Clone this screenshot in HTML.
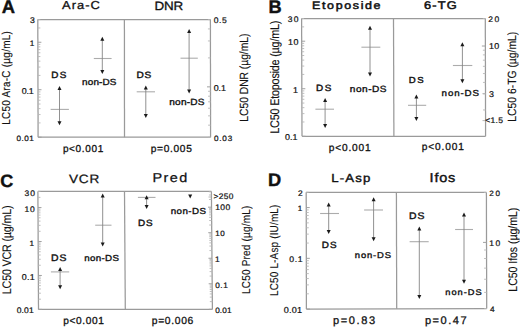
<!DOCTYPE html>
<html><head><meta charset="utf-8"><style>
html,body{margin:0;padding:0;background:#fff;width:520px;height:329px;overflow:hidden}
svg{display:block}
text{font-family:"Liberation Sans", sans-serif;fill:#111;text-rendering:geometricPrecision}
</style></head><body>
<svg width="520" height="329" viewBox="0 0 520 329">
<rect width="520" height="329" fill="#fff"/>
<line x1="37.80" y1="19.60" x2="210.40" y2="19.60" stroke="#9a9a9a" stroke-width="1.25"/>
<line x1="38.10" y1="137.20" x2="210.60" y2="137.20" stroke="#9a9a9a" stroke-width="1.25"/>
<line x1="37.80" y1="19.60" x2="38.10" y2="137.20" stroke="#9a9a9a" stroke-width="1.25"/>
<line x1="210.40" y1="19.60" x2="210.60" y2="137.20" stroke="#9a9a9a" stroke-width="1.25"/>
<line x1="124.40" y1="19.60" x2="124.50" y2="137.20" stroke="#9a9a9a" stroke-width="1.25"/>
<line x1="38.10" y1="137.20" x2="41.60" y2="137.20" stroke="#a0a0a0" stroke-width="1.0"/>
<line x1="38.06" y1="122.91" x2="40.56" y2="122.91" stroke="#b8b8b8" stroke-width="0.9"/>
<line x1="38.04" y1="114.55" x2="40.54" y2="114.55" stroke="#b8b8b8" stroke-width="0.9"/>
<line x1="38.03" y1="108.62" x2="40.53" y2="108.62" stroke="#b8b8b8" stroke-width="0.9"/>
<line x1="38.02" y1="104.02" x2="40.52" y2="104.02" stroke="#b8b8b8" stroke-width="0.9"/>
<line x1="38.01" y1="100.26" x2="40.51" y2="100.26" stroke="#b8b8b8" stroke-width="0.9"/>
<line x1="38.00" y1="97.08" x2="40.50" y2="97.08" stroke="#b8b8b8" stroke-width="0.9"/>
<line x1="37.99" y1="94.33" x2="40.49" y2="94.33" stroke="#b8b8b8" stroke-width="0.9"/>
<line x1="37.98" y1="91.90" x2="40.48" y2="91.90" stroke="#b8b8b8" stroke-width="0.9"/>
<line x1="37.98" y1="89.73" x2="41.48" y2="89.73" stroke="#a0a0a0" stroke-width="1.0"/>
<line x1="37.94" y1="75.43" x2="40.44" y2="75.43" stroke="#b8b8b8" stroke-width="0.9"/>
<line x1="37.92" y1="67.07" x2="40.42" y2="67.07" stroke="#b8b8b8" stroke-width="0.9"/>
<line x1="37.91" y1="61.14" x2="40.41" y2="61.14" stroke="#b8b8b8" stroke-width="0.9"/>
<line x1="37.89" y1="56.54" x2="40.39" y2="56.54" stroke="#b8b8b8" stroke-width="0.9"/>
<line x1="37.88" y1="52.78" x2="40.38" y2="52.78" stroke="#b8b8b8" stroke-width="0.9"/>
<line x1="37.88" y1="49.60" x2="40.38" y2="49.60" stroke="#b8b8b8" stroke-width="0.9"/>
<line x1="37.87" y1="46.85" x2="40.37" y2="46.85" stroke="#b8b8b8" stroke-width="0.9"/>
<line x1="37.86" y1="44.42" x2="40.36" y2="44.42" stroke="#b8b8b8" stroke-width="0.9"/>
<line x1="37.86" y1="42.25" x2="41.36" y2="42.25" stroke="#a0a0a0" stroke-width="1.0"/>
<line x1="37.82" y1="27.96" x2="40.32" y2="27.96" stroke="#b8b8b8" stroke-width="0.9"/>
<line x1="37.80" y1="19.60" x2="40.30" y2="19.60" stroke="#b8b8b8" stroke-width="0.9"/>
<line x1="210.60" y1="137.20" x2="208.10" y2="137.20" stroke="#b8b8b8" stroke-width="0.9"/>
<line x1="210.58" y1="125.17" x2="208.08" y2="125.17" stroke="#b8b8b8" stroke-width="0.9"/>
<line x1="210.56" y1="115.85" x2="208.06" y2="115.85" stroke="#b8b8b8" stroke-width="0.9"/>
<line x1="210.55" y1="108.23" x2="208.05" y2="108.23" stroke="#b8b8b8" stroke-width="0.9"/>
<line x1="210.54" y1="101.78" x2="208.04" y2="101.78" stroke="#b8b8b8" stroke-width="0.9"/>
<line x1="210.53" y1="96.20" x2="208.03" y2="96.20" stroke="#b8b8b8" stroke-width="0.9"/>
<line x1="210.52" y1="91.28" x2="208.02" y2="91.28" stroke="#b8b8b8" stroke-width="0.9"/>
<line x1="210.51" y1="86.87" x2="207.01" y2="86.87" stroke="#a0a0a0" stroke-width="1.0"/>
<line x1="210.47" y1="57.90" x2="207.97" y2="57.90" stroke="#b8b8b8" stroke-width="0.9"/>
<line x1="210.44" y1="40.95" x2="207.94" y2="40.95" stroke="#b8b8b8" stroke-width="0.9"/>
<line x1="210.42" y1="28.93" x2="207.92" y2="28.93" stroke="#b8b8b8" stroke-width="0.9"/>
<line x1="210.40" y1="19.60" x2="207.90" y2="19.60" stroke="#b8b8b8" stroke-width="0.9"/>
<line x1="301.60" y1="18.50" x2="485.30" y2="18.50" stroke="#9a9a9a" stroke-width="1.25"/>
<line x1="302.00" y1="136.30" x2="485.60" y2="136.30" stroke="#9a9a9a" stroke-width="1.25"/>
<line x1="301.60" y1="18.50" x2="302.00" y2="136.30" stroke="#9a9a9a" stroke-width="1.25"/>
<line x1="485.30" y1="18.50" x2="485.60" y2="136.30" stroke="#9a9a9a" stroke-width="1.25"/>
<line x1="393.50" y1="18.50" x2="393.90" y2="136.30" stroke="#9a9a9a" stroke-width="1.25"/>
<line x1="302.00" y1="136.30" x2="305.50" y2="136.30" stroke="#a0a0a0" stroke-width="1.0"/>
<line x1="301.95" y1="121.98" x2="304.45" y2="121.98" stroke="#b8b8b8" stroke-width="0.9"/>
<line x1="301.92" y1="113.61" x2="304.42" y2="113.61" stroke="#b8b8b8" stroke-width="0.9"/>
<line x1="301.90" y1="107.67" x2="304.40" y2="107.67" stroke="#b8b8b8" stroke-width="0.9"/>
<line x1="301.89" y1="103.06" x2="304.39" y2="103.06" stroke="#b8b8b8" stroke-width="0.9"/>
<line x1="301.87" y1="99.29" x2="304.37" y2="99.29" stroke="#b8b8b8" stroke-width="0.9"/>
<line x1="301.86" y1="96.11" x2="304.36" y2="96.11" stroke="#b8b8b8" stroke-width="0.9"/>
<line x1="301.85" y1="93.35" x2="304.35" y2="93.35" stroke="#b8b8b8" stroke-width="0.9"/>
<line x1="301.85" y1="90.92" x2="304.35" y2="90.92" stroke="#b8b8b8" stroke-width="0.9"/>
<line x1="301.84" y1="88.74" x2="305.34" y2="88.74" stroke="#a0a0a0" stroke-width="1.0"/>
<line x1="301.79" y1="74.43" x2="304.29" y2="74.43" stroke="#b8b8b8" stroke-width="0.9"/>
<line x1="301.76" y1="66.06" x2="304.26" y2="66.06" stroke="#b8b8b8" stroke-width="0.9"/>
<line x1="301.74" y1="60.11" x2="304.24" y2="60.11" stroke="#b8b8b8" stroke-width="0.9"/>
<line x1="301.73" y1="55.51" x2="304.23" y2="55.51" stroke="#b8b8b8" stroke-width="0.9"/>
<line x1="301.71" y1="51.74" x2="304.21" y2="51.74" stroke="#b8b8b8" stroke-width="0.9"/>
<line x1="301.70" y1="48.56" x2="304.20" y2="48.56" stroke="#b8b8b8" stroke-width="0.9"/>
<line x1="301.69" y1="45.80" x2="304.19" y2="45.80" stroke="#b8b8b8" stroke-width="0.9"/>
<line x1="301.68" y1="43.37" x2="304.18" y2="43.37" stroke="#b8b8b8" stroke-width="0.9"/>
<line x1="301.68" y1="41.19" x2="305.18" y2="41.19" stroke="#a0a0a0" stroke-width="1.0"/>
<line x1="301.63" y1="26.87" x2="304.13" y2="26.87" stroke="#b8b8b8" stroke-width="0.9"/>
<line x1="301.60" y1="18.50" x2="304.10" y2="18.50" stroke="#b8b8b8" stroke-width="0.9"/>
<line x1="485.53" y1="109.95" x2="483.03" y2="109.95" stroke="#b8b8b8" stroke-width="0.9"/>
<line x1="485.49" y1="93.84" x2="482.99" y2="93.84" stroke="#b8b8b8" stroke-width="0.9"/>
<line x1="485.46" y1="82.42" x2="482.96" y2="82.42" stroke="#b8b8b8" stroke-width="0.9"/>
<line x1="485.44" y1="73.56" x2="482.94" y2="73.56" stroke="#b8b8b8" stroke-width="0.9"/>
<line x1="485.42" y1="66.32" x2="482.92" y2="66.32" stroke="#b8b8b8" stroke-width="0.9"/>
<line x1="485.41" y1="60.19" x2="482.91" y2="60.19" stroke="#b8b8b8" stroke-width="0.9"/>
<line x1="485.39" y1="54.89" x2="482.89" y2="54.89" stroke="#b8b8b8" stroke-width="0.9"/>
<line x1="485.38" y1="50.21" x2="482.88" y2="50.21" stroke="#b8b8b8" stroke-width="0.9"/>
<line x1="485.37" y1="46.03" x2="481.87" y2="46.03" stroke="#a0a0a0" stroke-width="1.0"/>
<line x1="485.30" y1="18.50" x2="482.80" y2="18.50" stroke="#b8b8b8" stroke-width="0.9"/>
<line x1="37.90" y1="191.40" x2="211.40" y2="191.40" stroke="#9a9a9a" stroke-width="1.25"/>
<line x1="38.50" y1="309.40" x2="212.40" y2="309.30" stroke="#9a9a9a" stroke-width="1.25"/>
<line x1="37.90" y1="191.40" x2="38.50" y2="309.40" stroke="#9a9a9a" stroke-width="1.25"/>
<line x1="211.40" y1="191.40" x2="212.40" y2="309.30" stroke="#9a9a9a" stroke-width="1.25"/>
<line x1="124.50" y1="191.40" x2="125.30" y2="309.35" stroke="#9a9a9a" stroke-width="1.25"/>
<line x1="38.50" y1="309.40" x2="42.00" y2="309.40" stroke="#a0a0a0" stroke-width="1.0"/>
<line x1="38.45" y1="299.18" x2="40.95" y2="299.18" stroke="#b8b8b8" stroke-width="0.9"/>
<line x1="38.42" y1="293.21" x2="40.92" y2="293.21" stroke="#b8b8b8" stroke-width="0.9"/>
<line x1="38.40" y1="288.97" x2="40.90" y2="288.97" stroke="#b8b8b8" stroke-width="0.9"/>
<line x1="38.38" y1="285.68" x2="40.88" y2="285.68" stroke="#b8b8b8" stroke-width="0.9"/>
<line x1="38.37" y1="282.99" x2="40.87" y2="282.99" stroke="#b8b8b8" stroke-width="0.9"/>
<line x1="38.35" y1="280.72" x2="40.85" y2="280.72" stroke="#b8b8b8" stroke-width="0.9"/>
<line x1="38.34" y1="278.75" x2="40.84" y2="278.75" stroke="#b8b8b8" stroke-width="0.9"/>
<line x1="38.34" y1="277.02" x2="40.84" y2="277.02" stroke="#b8b8b8" stroke-width="0.9"/>
<line x1="38.33" y1="275.46" x2="41.83" y2="275.46" stroke="#a0a0a0" stroke-width="1.0"/>
<line x1="38.28" y1="265.25" x2="40.78" y2="265.25" stroke="#b8b8b8" stroke-width="0.9"/>
<line x1="38.25" y1="259.27" x2="40.75" y2="259.27" stroke="#b8b8b8" stroke-width="0.9"/>
<line x1="38.22" y1="255.03" x2="40.72" y2="255.03" stroke="#b8b8b8" stroke-width="0.9"/>
<line x1="38.21" y1="251.74" x2="40.71" y2="251.74" stroke="#b8b8b8" stroke-width="0.9"/>
<line x1="38.19" y1="249.06" x2="40.69" y2="249.06" stroke="#b8b8b8" stroke-width="0.9"/>
<line x1="38.18" y1="246.78" x2="40.68" y2="246.78" stroke="#b8b8b8" stroke-width="0.9"/>
<line x1="38.17" y1="244.82" x2="40.67" y2="244.82" stroke="#b8b8b8" stroke-width="0.9"/>
<line x1="38.16" y1="243.08" x2="40.66" y2="243.08" stroke="#b8b8b8" stroke-width="0.9"/>
<line x1="38.15" y1="241.53" x2="41.65" y2="241.53" stroke="#a0a0a0" stroke-width="1.0"/>
<line x1="38.10" y1="231.31" x2="40.60" y2="231.31" stroke="#b8b8b8" stroke-width="0.9"/>
<line x1="38.07" y1="225.34" x2="40.57" y2="225.34" stroke="#b8b8b8" stroke-width="0.9"/>
<line x1="38.05" y1="221.10" x2="40.55" y2="221.10" stroke="#b8b8b8" stroke-width="0.9"/>
<line x1="38.03" y1="217.81" x2="40.53" y2="217.81" stroke="#b8b8b8" stroke-width="0.9"/>
<line x1="38.02" y1="215.12" x2="40.52" y2="215.12" stroke="#b8b8b8" stroke-width="0.9"/>
<line x1="38.01" y1="212.85" x2="40.51" y2="212.85" stroke="#b8b8b8" stroke-width="0.9"/>
<line x1="38.00" y1="210.88" x2="40.50" y2="210.88" stroke="#b8b8b8" stroke-width="0.9"/>
<line x1="37.99" y1="209.14" x2="40.49" y2="209.14" stroke="#b8b8b8" stroke-width="0.9"/>
<line x1="37.98" y1="207.59" x2="41.48" y2="207.59" stroke="#a0a0a0" stroke-width="1.0"/>
<line x1="37.93" y1="197.38" x2="40.43" y2="197.38" stroke="#b8b8b8" stroke-width="0.9"/>
<line x1="37.90" y1="191.40" x2="40.40" y2="191.40" stroke="#b8b8b8" stroke-width="0.9"/>
<line x1="212.40" y1="309.30" x2="208.90" y2="309.30" stroke="#a0a0a0" stroke-width="1.0"/>
<line x1="212.33" y1="301.61" x2="209.83" y2="301.61" stroke="#b8b8b8" stroke-width="0.9"/>
<line x1="212.30" y1="297.12" x2="209.80" y2="297.12" stroke="#b8b8b8" stroke-width="0.9"/>
<line x1="212.27" y1="293.93" x2="209.77" y2="293.93" stroke="#b8b8b8" stroke-width="0.9"/>
<line x1="212.25" y1="291.46" x2="209.75" y2="291.46" stroke="#b8b8b8" stroke-width="0.9"/>
<line x1="212.23" y1="289.43" x2="209.73" y2="289.43" stroke="#b8b8b8" stroke-width="0.9"/>
<line x1="212.22" y1="287.72" x2="209.72" y2="287.72" stroke="#b8b8b8" stroke-width="0.9"/>
<line x1="212.20" y1="286.24" x2="209.70" y2="286.24" stroke="#b8b8b8" stroke-width="0.9"/>
<line x1="212.19" y1="284.94" x2="209.69" y2="284.94" stroke="#b8b8b8" stroke-width="0.9"/>
<line x1="212.18" y1="283.77" x2="208.68" y2="283.77" stroke="#a0a0a0" stroke-width="1.0"/>
<line x1="212.12" y1="276.08" x2="209.62" y2="276.08" stroke="#b8b8b8" stroke-width="0.9"/>
<line x1="212.08" y1="271.59" x2="209.58" y2="271.59" stroke="#b8b8b8" stroke-width="0.9"/>
<line x1="212.05" y1="268.40" x2="209.55" y2="268.40" stroke="#b8b8b8" stroke-width="0.9"/>
<line x1="212.03" y1="265.92" x2="209.53" y2="265.92" stroke="#b8b8b8" stroke-width="0.9"/>
<line x1="212.01" y1="263.90" x2="209.51" y2="263.90" stroke="#b8b8b8" stroke-width="0.9"/>
<line x1="212.00" y1="262.19" x2="209.50" y2="262.19" stroke="#b8b8b8" stroke-width="0.9"/>
<line x1="211.99" y1="260.71" x2="209.49" y2="260.71" stroke="#b8b8b8" stroke-width="0.9"/>
<line x1="211.98" y1="259.41" x2="209.48" y2="259.41" stroke="#b8b8b8" stroke-width="0.9"/>
<line x1="211.97" y1="258.24" x2="208.47" y2="258.24" stroke="#a0a0a0" stroke-width="1.0"/>
<line x1="211.90" y1="250.55" x2="209.40" y2="250.55" stroke="#b8b8b8" stroke-width="0.9"/>
<line x1="211.86" y1="246.06" x2="209.36" y2="246.06" stroke="#b8b8b8" stroke-width="0.9"/>
<line x1="211.84" y1="242.87" x2="209.34" y2="242.87" stroke="#b8b8b8" stroke-width="0.9"/>
<line x1="211.82" y1="240.39" x2="209.32" y2="240.39" stroke="#b8b8b8" stroke-width="0.9"/>
<line x1="211.80" y1="238.37" x2="209.30" y2="238.37" stroke="#b8b8b8" stroke-width="0.9"/>
<line x1="211.78" y1="236.66" x2="209.28" y2="236.66" stroke="#b8b8b8" stroke-width="0.9"/>
<line x1="211.77" y1="235.18" x2="209.27" y2="235.18" stroke="#b8b8b8" stroke-width="0.9"/>
<line x1="211.76" y1="233.88" x2="209.26" y2="233.88" stroke="#b8b8b8" stroke-width="0.9"/>
<line x1="211.75" y1="232.71" x2="208.25" y2="232.71" stroke="#a0a0a0" stroke-width="1.0"/>
<line x1="211.69" y1="225.02" x2="209.19" y2="225.02" stroke="#b8b8b8" stroke-width="0.9"/>
<line x1="211.65" y1="220.53" x2="209.15" y2="220.53" stroke="#b8b8b8" stroke-width="0.9"/>
<line x1="211.62" y1="217.34" x2="209.12" y2="217.34" stroke="#b8b8b8" stroke-width="0.9"/>
<line x1="211.60" y1="214.86" x2="209.10" y2="214.86" stroke="#b8b8b8" stroke-width="0.9"/>
<line x1="211.58" y1="212.84" x2="209.08" y2="212.84" stroke="#b8b8b8" stroke-width="0.9"/>
<line x1="211.57" y1="211.13" x2="209.07" y2="211.13" stroke="#b8b8b8" stroke-width="0.9"/>
<line x1="211.55" y1="209.65" x2="209.05" y2="209.65" stroke="#b8b8b8" stroke-width="0.9"/>
<line x1="211.54" y1="208.35" x2="209.04" y2="208.35" stroke="#b8b8b8" stroke-width="0.9"/>
<line x1="211.53" y1="207.18" x2="208.03" y2="207.18" stroke="#a0a0a0" stroke-width="1.0"/>
<line x1="211.47" y1="199.49" x2="208.97" y2="199.49" stroke="#b8b8b8" stroke-width="0.9"/>
<line x1="211.43" y1="195.00" x2="208.93" y2="195.00" stroke="#b8b8b8" stroke-width="0.9"/>
<line x1="211.40" y1="191.81" x2="208.90" y2="191.81" stroke="#b8b8b8" stroke-width="0.9"/>
<line x1="306.20" y1="192.30" x2="486.40" y2="192.40" stroke="#9a9a9a" stroke-width="1.25"/>
<line x1="306.40" y1="309.10" x2="486.70" y2="308.50" stroke="#9a9a9a" stroke-width="1.25"/>
<line x1="306.20" y1="192.30" x2="306.40" y2="309.10" stroke="#9a9a9a" stroke-width="1.25"/>
<line x1="486.40" y1="192.40" x2="486.70" y2="308.50" stroke="#9a9a9a" stroke-width="1.25"/>
<line x1="396.40" y1="192.35" x2="396.70" y2="308.80" stroke="#9a9a9a" stroke-width="1.25"/>
<line x1="306.40" y1="309.10" x2="309.90" y2="309.10" stroke="#a0a0a0" stroke-width="1.0"/>
<line x1="306.37" y1="293.82" x2="308.87" y2="293.82" stroke="#b8b8b8" stroke-width="0.9"/>
<line x1="306.36" y1="284.88" x2="308.86" y2="284.88" stroke="#b8b8b8" stroke-width="0.9"/>
<line x1="306.35" y1="278.54" x2="308.85" y2="278.54" stroke="#b8b8b8" stroke-width="0.9"/>
<line x1="306.34" y1="273.62" x2="308.84" y2="273.62" stroke="#b8b8b8" stroke-width="0.9"/>
<line x1="306.33" y1="269.60" x2="308.83" y2="269.60" stroke="#b8b8b8" stroke-width="0.9"/>
<line x1="306.33" y1="266.20" x2="308.83" y2="266.20" stroke="#b8b8b8" stroke-width="0.9"/>
<line x1="306.32" y1="263.26" x2="308.82" y2="263.26" stroke="#b8b8b8" stroke-width="0.9"/>
<line x1="306.32" y1="260.66" x2="308.82" y2="260.66" stroke="#b8b8b8" stroke-width="0.9"/>
<line x1="306.31" y1="258.34" x2="309.81" y2="258.34" stroke="#a0a0a0" stroke-width="1.0"/>
<line x1="306.29" y1="243.06" x2="308.79" y2="243.06" stroke="#b8b8b8" stroke-width="0.9"/>
<line x1="306.27" y1="234.12" x2="308.77" y2="234.12" stroke="#b8b8b8" stroke-width="0.9"/>
<line x1="306.26" y1="227.78" x2="308.76" y2="227.78" stroke="#b8b8b8" stroke-width="0.9"/>
<line x1="306.25" y1="222.86" x2="308.75" y2="222.86" stroke="#b8b8b8" stroke-width="0.9"/>
<line x1="306.25" y1="218.84" x2="308.75" y2="218.84" stroke="#b8b8b8" stroke-width="0.9"/>
<line x1="306.24" y1="215.44" x2="308.74" y2="215.44" stroke="#b8b8b8" stroke-width="0.9"/>
<line x1="306.23" y1="212.50" x2="308.73" y2="212.50" stroke="#b8b8b8" stroke-width="0.9"/>
<line x1="306.23" y1="209.90" x2="308.73" y2="209.90" stroke="#b8b8b8" stroke-width="0.9"/>
<line x1="306.23" y1="207.58" x2="309.73" y2="207.58" stroke="#a0a0a0" stroke-width="1.0"/>
<line x1="306.20" y1="192.30" x2="308.70" y2="192.30" stroke="#b8b8b8" stroke-width="0.9"/>
<line x1="486.70" y1="308.50" x2="484.20" y2="308.50" stroke="#b8b8b8" stroke-width="0.9"/>
<line x1="486.66" y1="292.40" x2="484.16" y2="292.40" stroke="#b8b8b8" stroke-width="0.9"/>
<line x1="486.62" y1="279.25" x2="484.12" y2="279.25" stroke="#b8b8b8" stroke-width="0.9"/>
<line x1="486.60" y1="268.13" x2="484.10" y2="268.13" stroke="#b8b8b8" stroke-width="0.9"/>
<line x1="486.57" y1="258.50" x2="484.07" y2="258.50" stroke="#b8b8b8" stroke-width="0.9"/>
<line x1="486.55" y1="250.00" x2="484.05" y2="250.00" stroke="#b8b8b8" stroke-width="0.9"/>
<line x1="486.53" y1="242.40" x2="483.03" y2="242.40" stroke="#a0a0a0" stroke-width="1.0"/>
<line x1="486.40" y1="192.40" x2="483.90" y2="192.40" stroke="#b8b8b8" stroke-width="0.9"/>
<line x1="485.40" y1="93.70" x2="482.40" y2="93.70" stroke="#b0b0b0" stroke-width="0.9"/>
<line x1="485.50" y1="120.60" x2="482.50" y2="120.60" stroke="#b0b0b0" stroke-width="0.9"/>
<line x1="211.50" y1="197.00" x2="208.50" y2="197.00" stroke="#b0b0b0" stroke-width="0.9"/>
<line x1="50.60" y1="109.40" x2="68.90" y2="109.40" stroke="#acacac" stroke-width="1.1"/>
<line x1="59.50" y1="89.10" x2="59.50" y2="122.30" stroke="#858585" stroke-width="0.9"/>
<polygon points="59.50,86.10 57.50,90.10 61.50,90.10" fill="#1a1a1a"/>
<polygon points="59.50,125.30 57.50,121.30 61.50,121.30" fill="#1a1a1a"/>
<line x1="93.80" y1="58.50" x2="111.60" y2="58.50" stroke="#acacac" stroke-width="1.1"/>
<line x1="102.30" y1="39.70" x2="102.30" y2="71.00" stroke="#858585" stroke-width="0.9"/>
<polygon points="102.30,36.70 100.30,40.70 104.30,40.70" fill="#1a1a1a"/>
<polygon points="102.30,74.00 100.30,70.00 104.30,70.00" fill="#1a1a1a"/>
<line x1="136.70" y1="91.80" x2="155.00" y2="91.80" stroke="#acacac" stroke-width="1.1"/>
<line x1="145.80" y1="88.40" x2="145.80" y2="114.90" stroke="#858585" stroke-width="0.9"/>
<polygon points="145.80,85.40 143.80,89.40 147.80,89.40" fill="#1a1a1a"/>
<polygon points="145.80,117.90 143.80,113.90 147.80,113.90" fill="#1a1a1a"/>
<line x1="180.50" y1="58.20" x2="197.80" y2="58.20" stroke="#acacac" stroke-width="1.1"/>
<line x1="189.10" y1="32.00" x2="189.10" y2="90.40" stroke="#858585" stroke-width="0.9"/>
<polygon points="189.10,29.00 187.10,33.00 191.10,33.00" fill="#1a1a1a"/>
<polygon points="189.10,93.40 187.10,89.40 191.10,89.40" fill="#1a1a1a"/>
<line x1="315.40" y1="109.20" x2="334.00" y2="109.20" stroke="#acacac" stroke-width="1.1"/>
<line x1="325.10" y1="101.10" x2="325.10" y2="125.10" stroke="#858585" stroke-width="0.9"/>
<polygon points="325.10,98.10 323.10,102.10 327.10,102.10" fill="#1a1a1a"/>
<polygon points="325.10,128.10 323.10,124.10 327.10,124.10" fill="#1a1a1a"/>
<line x1="361.40" y1="47.20" x2="380.30" y2="47.20" stroke="#acacac" stroke-width="1.1"/>
<line x1="370.00" y1="28.80" x2="370.00" y2="73.40" stroke="#858585" stroke-width="0.9"/>
<polygon points="370.00,25.80 368.00,29.80 372.00,29.80" fill="#1a1a1a"/>
<polygon points="370.00,76.40 368.00,72.40 372.00,72.40" fill="#1a1a1a"/>
<line x1="408.00" y1="105.30" x2="426.20" y2="105.30" stroke="#acacac" stroke-width="1.1"/>
<line x1="416.40" y1="97.40" x2="416.40" y2="117.90" stroke="#858585" stroke-width="0.9"/>
<polygon points="416.40,94.40 414.40,98.40 418.40,98.40" fill="#1a1a1a"/>
<polygon points="416.40,120.90 414.40,116.90 418.40,116.90" fill="#1a1a1a"/>
<line x1="452.90" y1="65.50" x2="472.30" y2="65.50" stroke="#acacac" stroke-width="1.1"/>
<line x1="462.40" y1="45.20" x2="462.40" y2="80.20" stroke="#858585" stroke-width="0.9"/>
<polygon points="462.40,42.20 460.40,46.20 464.40,46.20" fill="#1a1a1a"/>
<polygon points="462.40,83.20 460.40,79.20 464.40,79.20" fill="#1a1a1a"/>
<line x1="50.90" y1="271.90" x2="69.20" y2="271.90" stroke="#acacac" stroke-width="1.1"/>
<line x1="60.10" y1="270.10" x2="60.10" y2="286.20" stroke="#858585" stroke-width="0.9"/>
<polygon points="60.10,267.10 58.10,271.10 62.10,271.10" fill="#1a1a1a"/>
<polygon points="60.10,289.20 58.10,285.20 62.10,285.20" fill="#1a1a1a"/>
<line x1="95.20" y1="225.20" x2="111.50" y2="225.20" stroke="#acacac" stroke-width="1.1"/>
<line x1="102.70" y1="196.40" x2="102.70" y2="243.50" stroke="#858585" stroke-width="0.9"/>
<polygon points="102.70,193.40 100.70,197.40 104.70,197.40" fill="#1a1a1a"/>
<polygon points="102.70,246.50 100.70,242.50 104.70,242.50" fill="#1a1a1a"/>
<line x1="137.90" y1="197.40" x2="155.50" y2="197.40" stroke="#acacac" stroke-width="1.1"/>
<line x1="146.60" y1="198.20" x2="146.60" y2="205.90" stroke="#858585" stroke-width="0.9"/>
<polygon points="146.60,195.20 144.60,199.20 148.60,199.20" fill="#1a1a1a"/>
<polygon points="146.60,208.90 144.60,204.90 148.60,204.90" fill="#1a1a1a"/>
<line x1="320.10" y1="213.50" x2="339.00" y2="213.50" stroke="#acacac" stroke-width="1.1"/>
<line x1="328.70" y1="205.40" x2="328.70" y2="231.10" stroke="#858585" stroke-width="0.9"/>
<polygon points="328.70,202.40 326.70,206.40 330.70,206.40" fill="#1a1a1a"/>
<polygon points="328.70,234.10 326.70,230.10 330.70,230.10" fill="#1a1a1a"/>
<line x1="364.10" y1="210.00" x2="383.00" y2="210.00" stroke="#acacac" stroke-width="1.1"/>
<line x1="373.60" y1="200.20" x2="373.60" y2="238.20" stroke="#858585" stroke-width="0.9"/>
<polygon points="373.60,197.20 371.60,201.20 375.60,201.20" fill="#1a1a1a"/>
<polygon points="373.60,241.20 371.60,237.20 375.60,237.20" fill="#1a1a1a"/>
<line x1="409.60" y1="241.70" x2="428.70" y2="241.70" stroke="#acacac" stroke-width="1.1"/>
<line x1="419.30" y1="229.40" x2="419.30" y2="296.10" stroke="#858585" stroke-width="0.9"/>
<polygon points="419.30,226.40 417.30,230.40 421.30,230.40" fill="#1a1a1a"/>
<polygon points="419.30,299.10 417.30,295.10 421.30,295.10" fill="#1a1a1a"/>
<line x1="455.10" y1="229.50" x2="473.00" y2="229.50" stroke="#acacac" stroke-width="1.1"/>
<line x1="464.00" y1="215.40" x2="464.00" y2="280.80" stroke="#858585" stroke-width="0.9"/>
<polygon points="464.00,212.40 462.00,216.40 466.00,216.40" fill="#1a1a1a"/>
<polygon points="464.00,283.80 462.00,279.80 466.00,279.80" fill="#1a1a1a"/>
<polygon points="190.20,198.50 188.20,194.50 192.20,194.50" fill="#1a1a1a"/>
<text transform="translate(1.84,12.70)" font-size="18.39" font-weight="bold" stroke="#111" stroke-width="0.4">A</text>
<text transform="translate(268.58,13.10)" font-size="18.24" font-weight="bold" stroke="#111" stroke-width="0.4">B</text>
<text transform="translate(0.16,186.50)" font-size="18.02" font-weight="bold" stroke="#111" stroke-width="0.4">C</text>
<text transform="translate(267.98,185.70)" font-size="18.31" font-weight="bold" stroke="#111" stroke-width="0.4">D</text>
<text transform="translate(62.00,8.85) scale(1.120,1)" font-size="11.56" textLength="33.76" lengthAdjust="spacing" stroke="#111" stroke-width="0.3">Ara-C</text>
<text transform="translate(154.38,10.25) scale(1.120,1)" font-size="11.99" textLength="25.83" lengthAdjust="spacing" stroke="#111" stroke-width="0.3">DNR</text>
<text transform="translate(312.08,8.75) scale(1.150,1)" font-size="10.83" textLength="59.51" lengthAdjust="spacing" stroke="#111" stroke-width="0.5">Etoposide</text>
<text transform="translate(423.98,9.45) scale(1.150,1)" font-size="11.14" textLength="28.54" lengthAdjust="spacing" stroke="#111" stroke-width="0.5">6-TG</text>
<text transform="translate(68.88,182.67) scale(1.120,1)" font-size="12.14" textLength="27.11" lengthAdjust="spacing" stroke="#111" stroke-width="0.25">VCR</text>
<text transform="translate(152.50,181.88) scale(1.120,1)" font-size="12.86" textLength="30.96" lengthAdjust="spacing" stroke="#111" stroke-width="0.25">Pred</text>
<text transform="translate(331.14,182.30) scale(1.120,1)" font-size="11.77" textLength="35.00" lengthAdjust="spacing" stroke="#111" stroke-width="0.4">L-Asp</text>
<text transform="translate(429.62,181.80) scale(1.120,1)" font-size="12.94" textLength="22.90" lengthAdjust="spacing" stroke="#111" stroke-width="0.4">Ifos</text>
<text transform="translate(29.88,22.79) scale(1.050,1)" font-size="8.26" stroke="#111" stroke-width="0.22">3</text>
<text transform="translate(29.68,45.79) scale(1.050,1)" font-size="7.83" stroke="#111" stroke-width="0.22">1</text>
<text transform="translate(21.68,93.84) scale(1.050,1)" font-size="8.47" textLength="11.44" lengthAdjust="spacing" stroke="#111" stroke-width="0.22">0.1</text>
<text transform="translate(16.43,141.09) scale(1.050,1)" font-size="7.76" textLength="16.47" lengthAdjust="spacing" stroke="#111" stroke-width="0.22">0.01</text>
<text transform="translate(213.68,22.79) scale(1.050,1)" font-size="8.11" textLength="12.33" lengthAdjust="spacing" stroke="#111" stroke-width="0.22">0.5</text>
<text transform="translate(213.68,90.84) scale(1.050,1)" font-size="8.47" textLength="11.63" lengthAdjust="spacing" stroke="#111" stroke-width="0.22">0.1</text>
<text transform="translate(213.93,140.84) scale(1.050,1)" font-size="7.76" textLength="17.42" lengthAdjust="spacing" stroke="#111" stroke-width="0.22">0.03</text>
<text transform="translate(287.68,21.99) scale(1.050,1)" font-size="8.11" textLength="10.20" lengthAdjust="spacing" stroke="#111" stroke-width="0.22">30</text>
<text transform="translate(288.03,44.84) scale(1.050,1)" font-size="8.47" textLength="9.84" lengthAdjust="spacing" stroke="#111" stroke-width="0.22">10</text>
<text transform="translate(292.95,92.84) scale(1.050,1)" font-size="8.47" stroke="#111" stroke-width="0.22">1</text>
<text transform="translate(284.93,140.09) scale(1.050,1)" font-size="8.47" textLength="12.01" lengthAdjust="spacing" stroke="#111" stroke-width="0.22">0.1</text>
<text transform="translate(488.23,21.84) scale(1.050,1)" font-size="8.11" textLength="10.58" lengthAdjust="spacing" stroke="#111" stroke-width="0.22">20</text>
<text transform="translate(489.03,49.09) scale(1.050,1)" font-size="8.47" textLength="9.65" lengthAdjust="spacing" stroke="#111" stroke-width="0.22">10</text>
<text transform="translate(489.00,96.84) scale(1.050,1)" font-size="8.47" stroke="#111" stroke-width="0.22">3</text>
<text transform="translate(485.23,123.09) scale(1.050,1)" font-size="8.11" textLength="16.97" lengthAdjust="spacing" stroke="#111" stroke-width="0.22">&lt;1.5</text>
<text transform="translate(24.43,195.59) scale(1.050,1)" font-size="8.11" textLength="10.01" lengthAdjust="spacing" stroke="#111" stroke-width="0.22">30</text>
<text transform="translate(24.53,211.84) scale(1.050,1)" font-size="8.11" textLength="9.82" lengthAdjust="spacing" stroke="#111" stroke-width="0.22">10</text>
<text transform="translate(29.50,245.59) scale(1.050,1)" font-size="7.76" stroke="#111" stroke-width="0.22">1</text>
<text transform="translate(21.68,279.59) scale(1.050,1)" font-size="8.47" textLength="12.39" lengthAdjust="spacing" stroke="#111" stroke-width="0.22">0.1</text>
<text transform="translate(16.68,313.34) scale(1.050,1)" font-size="8.11" textLength="16.18" lengthAdjust="spacing" stroke="#111" stroke-width="0.22">0.01</text>
<text transform="translate(213.42,199.49) scale(1.050,1)" font-size="7.97" textLength="18.94" lengthAdjust="spacing" stroke="#111" stroke-width="0.22">&gt;250</text>
<text transform="translate(215.22,210.19) scale(1.050,1)" font-size="8.11" textLength="14.20" lengthAdjust="spacing" stroke="#111" stroke-width="0.22">100</text>
<text transform="translate(215.22,235.79) scale(1.050,1)" font-size="7.69" textLength="9.17" lengthAdjust="spacing" stroke="#111" stroke-width="0.22">10</text>
<text transform="translate(214.94,261.89) scale(1.050,1)" font-size="7.97" stroke="#111" stroke-width="0.22">1</text>
<text transform="translate(215.18,287.59) scale(1.050,1)" font-size="7.83" textLength="12.00" lengthAdjust="spacing" stroke="#111" stroke-width="0.22">0.1</text>
<text transform="translate(215.18,312.59) scale(1.050,1)" font-size="7.83" textLength="15.63" lengthAdjust="spacing" stroke="#111" stroke-width="0.22">0.01</text>
<text transform="translate(297.96,196.09) scale(1.050,1)" font-size="7.97" stroke="#111" stroke-width="0.22">2</text>
<text transform="translate(297.84,211.19) scale(1.050,1)" font-size="7.69" stroke="#111" stroke-width="0.22">1</text>
<text transform="translate(289.36,262.19) scale(1.050,1)" font-size="8.26" textLength="12.57" lengthAdjust="spacing" stroke="#111" stroke-width="0.22">0.1</text>
<text transform="translate(283.80,312.99) scale(1.050,1)" font-size="8.69" textLength="17.50" lengthAdjust="spacing" stroke="#111" stroke-width="0.22">0.01</text>
<text transform="translate(489.23,195.59) scale(1.050,1)" font-size="7.76" textLength="10.38" lengthAdjust="spacing" stroke="#111" stroke-width="0.22">20</text>
<text transform="translate(489.28,245.84) scale(1.050,1)" font-size="8.11" textLength="10.39" lengthAdjust="spacing" stroke="#111" stroke-width="0.22">10</text>
<text transform="translate(490.00,312.29) scale(1.050,1)" font-size="7.83" stroke="#111" stroke-width="0.22">4</text>
<text transform="translate(10.14,124.86) scale(1.150,1) rotate(-90)" font-size="9.96" textLength="93.71" lengthAdjust="spacing" stroke="#111" stroke-width="0.12">LC50 Ara-C (µg/mL)</text>
<text transform="translate(248.44,121.68) scale(1.150,1) rotate(-90)" font-size="10.34" textLength="88.13" lengthAdjust="spacing" stroke="#111" stroke-width="0.12">LC50 DNR (µg/mL)</text>
<text transform="translate(278.74,133.68) scale(1.150,1) rotate(-90)" font-size="10.84" textLength="113.11" lengthAdjust="spacing" stroke="#111" stroke-width="0.12">LC50 Etoposide (µg/mL)</text>
<text transform="translate(516.24,121.68) scale(1.150,1) rotate(-90)" font-size="10.34" textLength="89.95" lengthAdjust="spacing" stroke="#111" stroke-width="0.12">LC50 6-TG (µg/mL)</text>
<text transform="translate(10.74,294.18) scale(1.150,1) rotate(-90)" font-size="10.72" textLength="88.68" lengthAdjust="spacing" stroke="#111" stroke-width="0.12">LC50 VCR (µg/mL)</text>
<text transform="translate(249.84,293.98) scale(1.150,1) rotate(-90)" font-size="9.96" textLength="88.36" lengthAdjust="spacing" stroke="#111" stroke-width="0.12">LC50 Pred (µg/mL)</text>
<text transform="translate(277.84,296.04) scale(1.150,1) rotate(-90)" font-size="9.96" textLength="91.42" lengthAdjust="spacing" stroke="#111" stroke-width="0.12">LC50 L-Asp (IU/mL)</text>
<text transform="translate(516.84,291.68) scale(1.150,1) rotate(-90)" font-size="10.59" textLength="84.03" lengthAdjust="spacing" stroke="#111" stroke-width="0.12">LC50 Ifos (µg/mL)</text>
<text transform="translate(51.28,78.00) scale(1.100,1)" font-size="9.01" textLength="13.68" lengthAdjust="spacing" stroke="#111" stroke-width="0.4">DS</text>
<text transform="translate(82.10,84.83) scale(1.120,1)" font-size="8.87" textLength="30.69" lengthAdjust="spacing" stroke="#111" stroke-width="0.35">non-DS</text>
<text transform="translate(136.46,78.20) scale(1.100,1)" font-size="9.16" textLength="13.35" lengthAdjust="spacing" stroke="#111" stroke-width="0.4">DS</text>
<text transform="translate(169.28,104.73) scale(1.120,1)" font-size="9.01" textLength="31.44" lengthAdjust="spacing" stroke="#111" stroke-width="0.35">non-DS</text>
<text transform="translate(315.96,90.90) scale(1.100,1)" font-size="9.01" textLength="13.97" lengthAdjust="spacing" stroke="#111" stroke-width="0.4">DS</text>
<text transform="translate(349.84,92.12) scale(1.120,1)" font-size="9.01" textLength="32.84" lengthAdjust="spacing" stroke="#111" stroke-width="0.35">non-DS</text>
<text transform="translate(408.78,83.30) scale(1.100,1)" font-size="8.72" textLength="13.65" lengthAdjust="spacing" stroke="#111" stroke-width="0.4">DS</text>
<text transform="translate(441.60,96.12) scale(1.120,1)" font-size="8.72" textLength="33.38" lengthAdjust="spacing" stroke="#111" stroke-width="0.35">non-DS</text>
<text transform="translate(51.02,261.40) scale(1.100,1)" font-size="9.45" textLength="13.93" lengthAdjust="spacing" stroke="#111" stroke-width="0.4">DS</text>
<text transform="translate(84.28,261.32) scale(1.120,1)" font-size="8.72" textLength="30.99" lengthAdjust="spacing" stroke="#111" stroke-width="0.35">non-DS</text>
<text transform="translate(137.96,225.70) scale(1.100,1)" font-size="9.01" textLength="13.32" lengthAdjust="spacing" stroke="#111" stroke-width="0.4">DS</text>
<text transform="translate(170.72,214.12) scale(1.120,1)" font-size="8.72" textLength="31.49" lengthAdjust="spacing" stroke="#111" stroke-width="0.35">non-DS</text>
<text transform="translate(321.78,248.20) scale(1.100,1)" font-size="9.01" textLength="13.53" lengthAdjust="spacing" stroke="#111" stroke-width="0.4">DS</text>
<text transform="translate(354.84,257.52) scale(1.120,1)" font-size="8.43" textLength="32.35" lengthAdjust="spacing" stroke="#111" stroke-width="0.35">non-DS</text>
<text transform="translate(408.96,219.40) scale(1.100,1)" font-size="9.45" textLength="14.03" lengthAdjust="spacing" stroke="#111" stroke-width="0.4">DS</text>
<text transform="translate(445.28,295.02) scale(1.120,1)" font-size="8.28" textLength="32.46" lengthAdjust="spacing" stroke="#111" stroke-width="0.35">non-DS</text>
<text transform="translate(62.90,152.05)" font-size="10.03" textLength="40.32" lengthAdjust="spacing" stroke="#111" stroke-width="0.3">p&lt;0.001</text>
<text transform="translate(150.78,151.95)" font-size="10.17" textLength="41.08" lengthAdjust="spacing" stroke="#111" stroke-width="0.3">p=0.005</text>
<text transform="translate(328.72,150.75)" font-size="10.17" textLength="41.96" lengthAdjust="spacing" stroke="#111" stroke-width="0.3">p&lt;0.001</text>
<text transform="translate(421.78,150.45)" font-size="10.17" textLength="42.24" lengthAdjust="spacing" stroke="#111" stroke-width="0.3">p&lt;0.001</text>
<text transform="translate(63.28,324.15)" font-size="10.17" textLength="40.68" lengthAdjust="spacing" stroke="#111" stroke-width="0.3">p&lt;0.001</text>
<text transform="translate(151.78,323.75)" font-size="10.32" textLength="41.50" lengthAdjust="spacing" stroke="#111" stroke-width="0.3">p=0.006</text>
<text transform="translate(332.90,323.75)" font-size="11.05" textLength="42.31" lengthAdjust="spacing" stroke="#111" stroke-width="0.3">p=0.83</text>
<text transform="translate(424.90,323.75)" font-size="11.05" textLength="41.67" lengthAdjust="spacing" stroke="#111" stroke-width="0.3">p=0.47</text>
</svg>
</body></html>
